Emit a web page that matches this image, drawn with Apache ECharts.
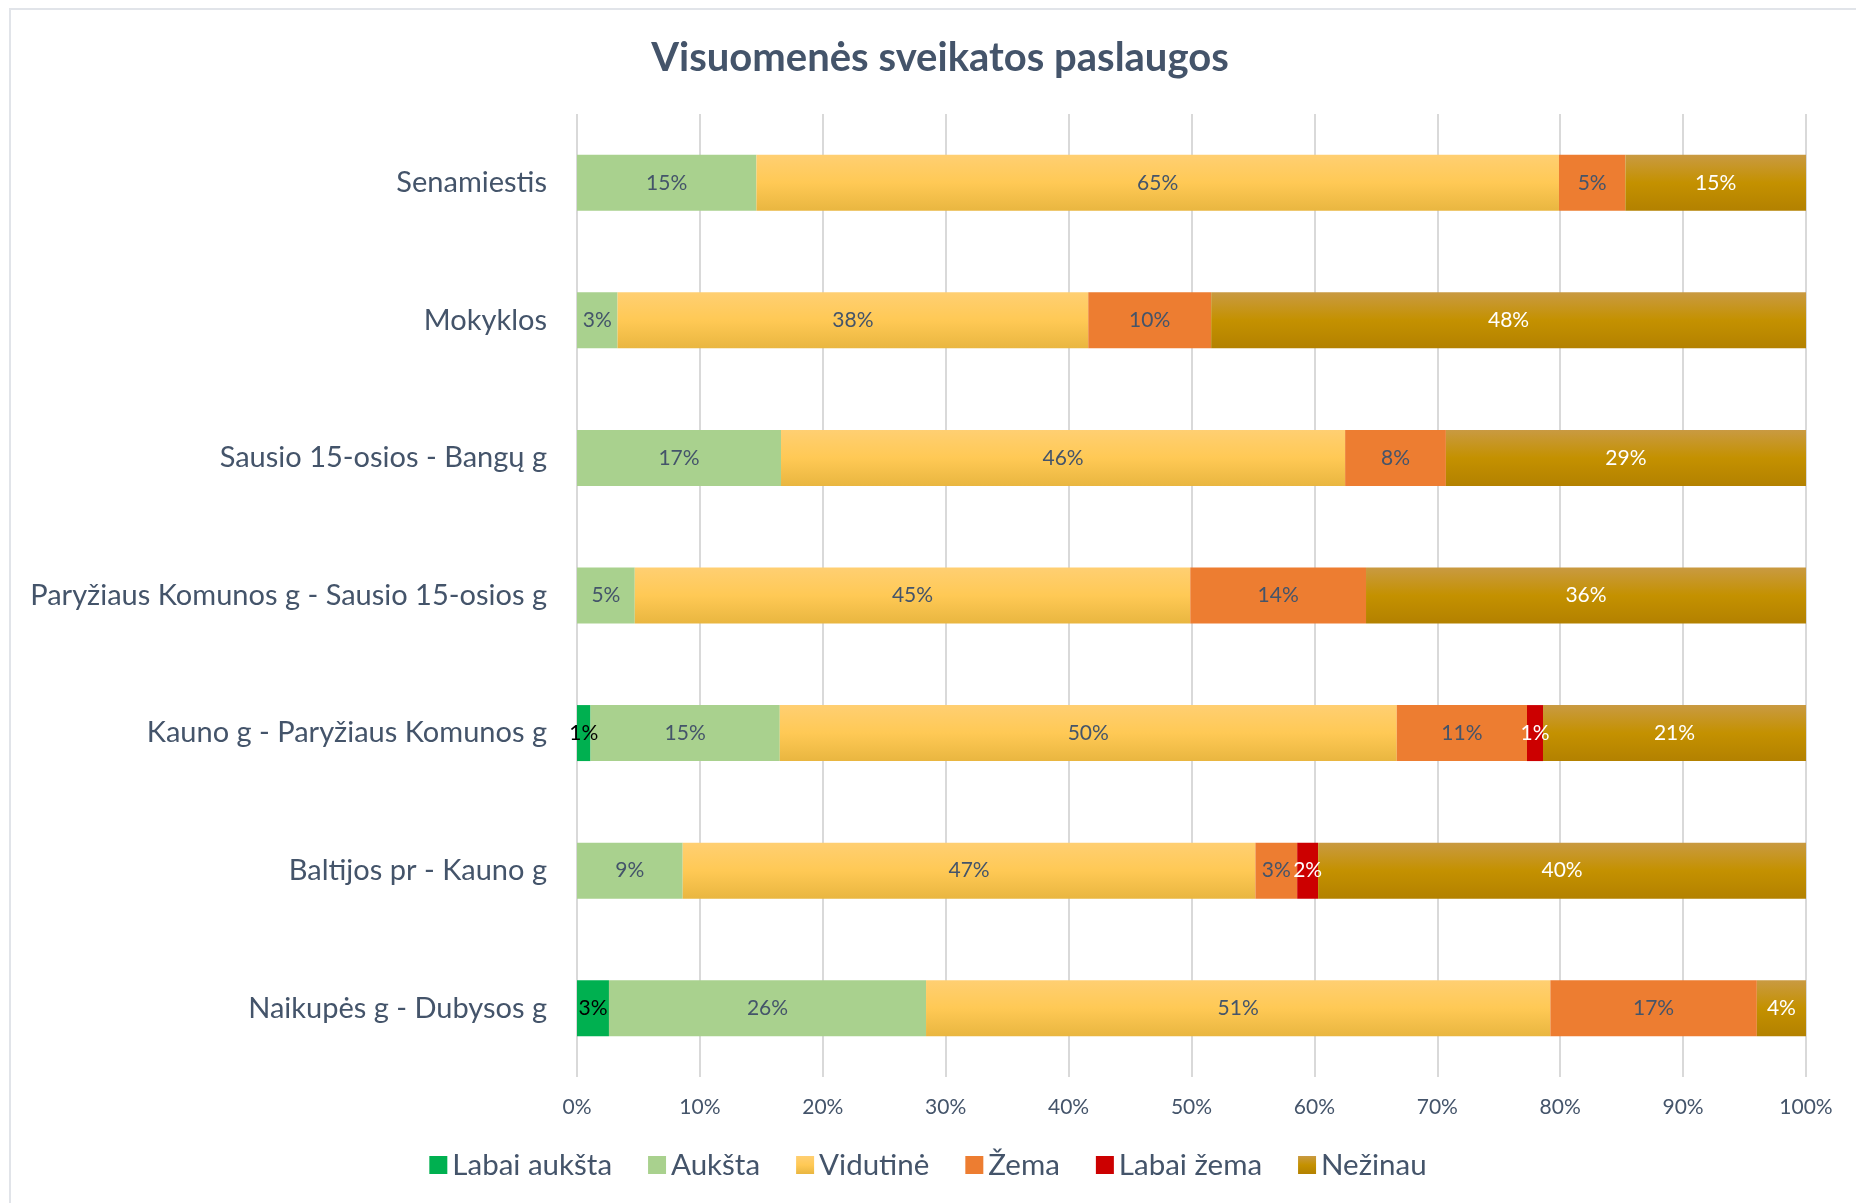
<!DOCTYPE html>
<html>
<head>
<meta charset="utf-8">
<script src="https://cdn.jsdelivr.net/npm/echarts@6/dist/echarts.min.js"></script>
<style>
  html, body { margin: 0; padding: 0; background: #fff; }
  #chart { width: 1856px; height: 1203px; }
</style>
</head>
<body>
<div id="chart"></div>
<script>
// Categories (top to bottom)
const categories = [
    "Senamiestis",
    "Mokyklos",
    "Sausio 15-osios - Bangų g",
    "Paryžiaus Komunos g - Sausio 15-osios g",
    "Kauno g - Paryžiaus Komunos g",
    "Baltijos pr - Kauno g",
    "Naikupės g - Dubysos g"
];

// Shares in percent, one array per answer
const labaiAuksta = [null, null, null, null, 1.1, null, 2.6];
const auksta      = [14.6, 3.3, 16.6, 4.7, 15.4, 8.6, 25.8];
const vidutine    = [65.3, 38.3, 45.9, 45.2, 50.2, 46.6, 50.8];
const zema        = [5.4, 10.0, 8.2, 14.3, 10.6, 3.4, 16.8];
const labaiZema   = [null, null, null, null, 1.3, 1.7, null];
const nezinau     = [14.7, 48.4, 29.3, 35.8, 21.4, 39.7, 4.0];

const xTicks = [0, 10, 20, 30, 40, 50, 60, 70, 80, 90, 100];

const textColor = '#44546A';
const fontFam = 'Lato, "Open Sans", sans-serif';

function makeSeries(name, data, color, labelColor) {
    return {
        name: name,
        type: 'bar',
        stack: 'total',
        data: data,
        barWidth: 56,
        itemStyle: { color: color },
        label: {
            show: true,
            position: 'inside',
            color: labelColor,
            fontSize: 21,
            fontFamily: fontFam,
            formatter: p => (p.value == null ? '' : Math.round(p.value) + '%')
        },
        emphasis: { disabled: true }
    };
}

const grad = (a, b, c) => new echarts.graphic.LinearGradient(0, 0, 0, 1, [
    { offset: 0, color: a }, { offset: 0.5, color: b }, { offset: 1, color: c }
]);

const chart = echarts.init(document.getElementById('chart'));

const option = {
    backgroundColor: '#fff',
    animation: false,
    // light frame of the chart area
    graphic: [{
        type: 'rect',
        shape: { x: 10, y: 9, width: 1860, height: 1210 },
        style: { fill: 'none', stroke: '#E1E4E9', lineWidth: 2 },
        silent: true
    }],
    title: {
        text: 'Visuomenės sveikatos paslaugos',
        left: 935,
        textAlign: 'center',
        top: 33,
        textStyle: { color: textColor, fontSize: 40, fontWeight: 'bold', fontFamily: fontFam }
    },
    legend: {
        bottom: 18,
        left: 'center',
        itemWidth: 18,
        itemHeight: 18,
        itemGap: 36,
        icon: 'rect',
        textStyle: { color: textColor, fontSize: 29.5, fontFamily: fontFam }
    },
    grid: { left: 577, right: 50, top: 114, bottom: 126 },
    xAxis: {
        type: 'value',
        min: 0,
        max: 100,
        interval: 10,
        axisLine: { show: false },
        axisTick: { show: false },
        splitLine: { lineStyle: { color: '#D9D9D9', width: 2 } },
        axisLabel: {
            color: textColor,
            fontSize: 21,
            fontFamily: fontFam,
            margin: 20,
            formatter: v => (xTicks.includes(v) ? v + '%' : '')
        }
    },
    yAxis: {
        type: 'category',
        data: categories,
        inverse: true,
        axisLine: { show: false },
        axisTick: { show: false },
        axisLabel: { color: textColor, fontSize: 29, fontFamily: fontFam, margin: 30 }
    },
    series: [
        makeSeries('Labai aukšta', labaiAuksta, '#00B050', '#000000'),
        makeSeries('Aukšta', auksta, '#A9D18E', textColor),
        makeSeries('Vidutinė', vidutine, grad('#FFCF72', '#FFC955', '#E9B640'), textColor),
        makeSeries('Žema', zema, '#ED7D31', textColor),
        makeSeries('Labai žema', labaiZema, '#CC0000', '#FFFFFF'),
        makeSeries('Nežinau', nezinau, grad('#C99A42', '#C49100', '#B38100'), '#FFFFFF')
    ]
};

chart.setOption(option);
</script>
</body>
</html>
